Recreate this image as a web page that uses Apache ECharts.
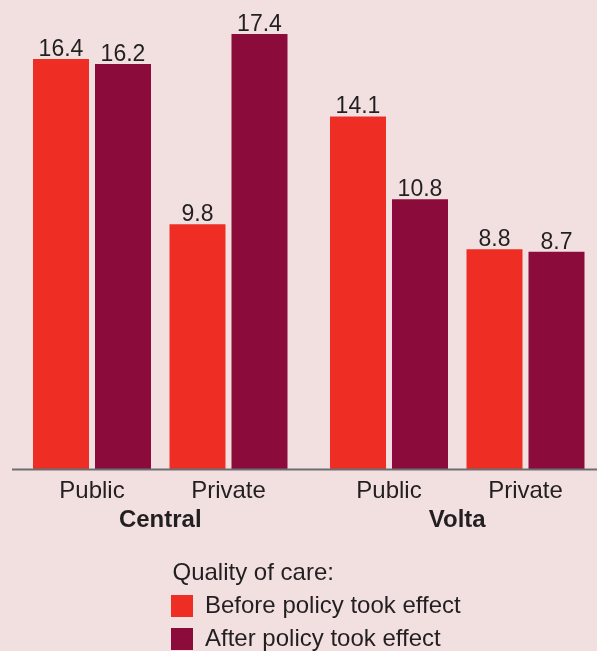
<!DOCTYPE html>
<html>
<head>
<meta charset="utf-8">
<script src="https://cdn.jsdelivr.net/npm/echarts@6/dist/echarts.min.js"></script>
<style>
html,body{margin:0;padding:0;background:#f2e0e1;}
#c{width:597px;height:651px;}
</style>
</head>
<body>
<div id="c"></div>
<script>
const regions = ['Central', 'Volta'];
const sectors = ['Public', 'Private'];
const seriesNames = ['Before policy took effect', 'After policy took effect'];
const centralBefore = [16.4, 9.8];
const centralAfter = [16.2, 17.4];
const voltaBefore = [14.1, 8.8];
const voltaAfter = [10.8, 8.7];
const legendTitle = 'Quality of care:';

const FONT = '"Liberation Sans", Arial, Helvetica, sans-serif';
const TXT = '#231f20';
const colors = ['#ee2e24', '#8b0c3a'];

const chart = echarts.init(document.getElementById('c'), null, {renderer: 'canvas'});

const gridBottom = 181.5;
const grids = [
  {left: 23.75, width: 273, top: 19, bottom: gridBottom},
  {left: 320.75, width: 273, top: 19, bottom: gridBottom}
];

const labelCfg = {show: true, position: 'top', distance: -2, color: TXT, fontSize: 23, fontFamily: FONT};

function bar(name, data, idx, colorIdx) {
  return {
    name: name, type: 'bar', xAxisIndex: idx, yAxisIndex: idx,
    data: data, barWidth: 56, barGap: '10.7%',
    itemStyle: {color: colors[colorIdx]},
    label: labelCfg, animation: false
  };
}

function legendFor(i, top) {
  return {
    data: [seriesNames[i]], orient: 'vertical', left: 171, top: top, padding: 0,
    itemWidth: 22, itemHeight: 22, icon: 'rect',
    textStyle: {fontFamily: FONT, fontSize: 24, color: TXT, padding: [0, 0, 0, 7]},
    selectedMode: false
  };
}

const option = {
  backgroundColor: '#f2e0e1',
  animation: false,
  title: {text: legendTitle, left: 172.5, top: 561.5, padding: 0,
    textStyle: {fontFamily: FONT, fontSize: 24, fontWeight: 'normal', color: TXT}},
  legend: [legendFor(0, 594), legendFor(1, 627)],
  grid: grids,
  xAxis: regions.map((r, i) => ({
    type: 'category', gridIndex: i, data: sectors,
    axisLine: {show: false}, axisTick: {show: false},
    axisLabel: {margin: 10, fontSize: 24, fontFamily: FONT, color: TXT},
    name: r, nameLocation: 'middle', nameGap: 39,
    nameTextStyle: {fontSize: 24, fontFamily: FONT, fontWeight: 'bold', color: TXT}
  })),
  yAxis: regions.map((r, i) => ({
    type: 'value', gridIndex: i, min: 0, max: 18, show: false, splitLine: {show: false}
  })),
  series: [
    bar(seriesNames[0], centralBefore, 0, 0),
    bar(seriesNames[1], centralAfter, 0, 1),
    bar(seriesNames[0], voltaBefore, 1, 0),
    bar(seriesNames[1], voltaAfter, 1, 1)
  ],
  graphic: [{
    type: 'line', z: 10,
    shape: {x1: 12, y1: 469.5, x2: 597, y2: 469.5},
    style: {stroke: '#6d6e71', lineWidth: 2}
  }]
};
chart.setOption(option);
</script>
</body>
</html>
